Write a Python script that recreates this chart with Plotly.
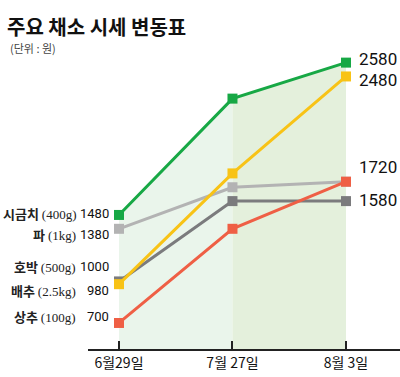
import plotly.graph_objects as go

dates = ["6월29일", "7월 27일", "8월 3일"]
names = ["시금치", "파", "호박", "배추", "상추"]
units = ["(400g)", "(1kg)", "(500g)", "(2.5kg)", "(100g)"]
spinach = [1480, 2320, 2580]
green_onion = [1380, 1680, 1720]
squash = [1000, 1580, 1580]
cabbage = [980, 1780, 2480]
lettuce = [700, 1380, 1720]

W, H = 400, 377
series = [
    ("파", green_onion, "#b3b3b3"),
    ("호박", squash, "#7b7b7d"),
    ("상추", lettuce, "#ef5f45"),
    ("배추", cabbage, "#f8c316"),
    ("시금치", spinach, "#17a845"),
]
NUMFONT = "Roboto, Liberation Sans, sans-serif"

fig = go.Figure()
xs = [0, 1, 2]
fig.add_trace(go.Scatter(x=xs[0:2], y=spinach[0:2], mode="lines", line=dict(width=0),
                         fill="tozeroy", fillcolor="#eaf5eb", hoverinfo="skip", showlegend=False))
fig.add_trace(go.Scatter(x=xs[1:3], y=spinach[1:3], mode="lines", line=dict(width=0),
                         fill="tozeroy", fillcolor="#e4f0dc", hoverinfo="skip", showlegend=False))
for nm, vals, col in series:
    fig.add_trace(go.Scatter(x=xs, y=vals, mode="lines+markers", name=nm,
                             line=dict(color=col, width=3),
                             marker=dict(symbol="square", size=10, color=col),
                             showlegend=False))

def px(x):
    return x / W

def py(y):
    return 1 - y / H

ann = []
ann.append(dict(x=px(6), y=py(26), xref="paper", yref="paper", xanchor="left", yanchor="middle",
                text="<b>주요 채소 시세 변동표</b>", showarrow=False, borderpad=0,
                font=dict(family="Noto Sans CJK KR", size=20, color="#111")))
ann.append(dict(x=px(9), y=py(48), xref="paper", yref="paper", xanchor="left", yanchor="middle",
                text="(단위 : 원)", showarrow=False, borderpad=0,
                font=dict(family="Noto Sans CJK KR", size=11, color="#444")))

first_vals = [spinach[0], green_onion[0], squash[0], cabbage[0], lettuce[0]]
left_y = [213, 234, 266, 290, 316]
for nm, un, v, yy in zip(names, units, first_vals, left_y):
    ann.append(dict(x=px(78), y=py(yy), xref="paper", yref="paper", xanchor="right", yanchor="middle",
                    text="<b>%s</b> <span style='font-family:Liberation Serif'>%s</span>" % (nm, un),
                    showarrow=False,
                    font=dict(family="Noto Sans CJK KR", size=13, color="#222")))
    ann.append(dict(x=px(111), y=py(yy), xref="paper", yref="paper", xanchor="right", yanchor="middle",
                    text=str(v), showarrow=False,
                    font=dict(family=NUMFONT, size=13, color="#111")))

right_vals = [spinach[2], cabbage[2], lettuce[2], squash[2]]
right_y = [59, 80, 167, 200]
for v, yy in zip(right_vals, right_y):
    ann.append(dict(x=px(357), y=py(yy), xref="paper", yref="paper", xanchor="left", yanchor="middle",
                    text=str(v), showarrow=False,
                    font=dict(family=NUMFONT, size=17, color="#111")))

fig.update_layout(
    width=W, height=H,
    margin=dict(l=0, r=0, t=0, b=0),
    paper_bgcolor="white", plot_bgcolor="white",
    annotations=ann,
    xaxis=dict(domain=[88 / W, 1], range=[-0.273, 2.476], tickvals=xs, ticktext=dates,
               showgrid=False, zeroline=False, showline=True, linecolor="#222", linewidth=1.5,
               ticks="inside", ticklen=8, tickcolor="#222", tickwidth=1.5,
               tickfont=dict(family="Noto Sans CJK KR", size=14, color="#111")),
    yaxis=dict(domain=[28 / H, 1 - 55 / H], range=[512, 2635], visible=False, showgrid=False),
)

fig.write_html("out.html", config={"displayModeBar": False},
               post_script="document.body.style.margin='0';document.body.style.padding='0';")
